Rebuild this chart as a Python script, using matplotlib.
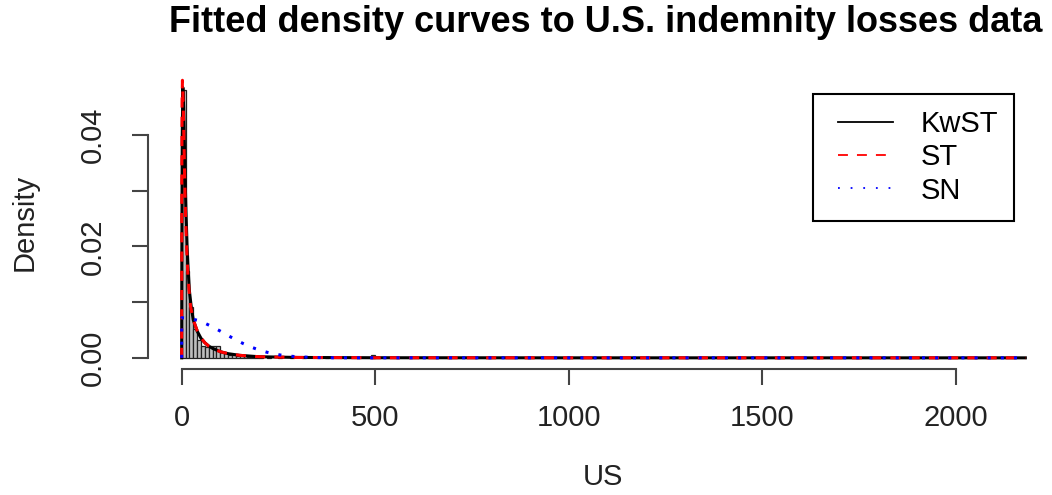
import matplotlib
matplotlib.use("Agg")
import matplotlib.pyplot as plt
from matplotlib.lines import Line2D
from matplotlib.legend_handler import HandlerLine2D

# histogram of the losses (bin width 10, density scale)
bin_width = 10
bin_start = [0, 10, 20, 30, 40, 50, 60, 70, 80, 90, 100, 110, 120, 130, 140,
             150, 160, 170, 180, 190, 200, 220, 250, 280, 310, 370, 490]
bin_density = [0.0480, 0.0155, 0.0092, 0.0052, 0.0032, 0.0021, 0.0019, 0.0021,
               0.0021, 0.0021, 0.0011, 0.0008, 0.0006, 0.0005, 0.0004, 0.0003,
               0.0003, 0.0002, 0.0002, 0.0002, 0.0001, 0.0001, 0.0002, 0.0001,
               0.0001, 0.0002, 0.0005]

# fitted densities
kwst_x = [0, 0.5, 1.5, 3, 5, 7, 9, 11, 14, 17, 20, 25, 30, 40, 50, 60, 70, 80,
          100, 120, 150, 200, 300, 500, 1000, 2180]
kwst_y = [0, 0.020, 0.040, 0.0485, 0.0450, 0.0385, 0.0320, 0.0265, 0.0200,
          0.0155, 0.0120, 0.0090, 0.0068, 0.0048, 0.0035, 0.0027, 0.0021,
          0.0017, 0.0011, 0.00075, 0.00045, 0.0002, 0.00007, 0.00002, 0.000003, 0]
st_x = [0, 0.3, 1, 2, 4, 6, 8, 10, 13, 16, 20, 23, 30, 40, 50, 60, 70, 80,
        100, 120, 150, 200, 300, 500, 1000, 2180]
st_y = [0, 0.030, 0.046, 0.0498, 0.0455, 0.0385, 0.0315, 0.0255, 0.0195,
        0.0150, 0.0112, 0.0092, 0.0068, 0.0049, 0.0036, 0.0027, 0.0021,
        0.0017, 0.0011, 0.00075, 0.00045, 0.0002, 0.00007, 0.00002, 0.000003, 0]
sn_x = [0, 0, 20, 40, 60, 80, 100, 120, 140, 160, 180, 200, 220, 240, 260,
        280, 300, 350, 400, 2180]
sn_y = [0, 0.0072, 0.00708, 0.00675, 0.00622, 0.00554, 0.00479, 0.00400,
        0.00323, 0.00253, 0.00192, 0.00141, 0.00101, 0.00069, 0.00045,
        0.00030, 0.00019, 0.00005, 0.00001, 0]

x_ticks = [0, 500, 1000, 1500, 2000]
y_ticks = [0, 0.01, 0.02, 0.03, 0.04]
y_ticklabels = ["0.00", "", "0.02", "", "0.04"]

plt.rcParams.update({"font.family": "Liberation Sans", "font.size": 21})

W, H = 1052, 495
fig = plt.figure(figsize=(W / 100, H / 100), dpi=100)
ax = fig.add_axes([148 / W, 1 - 369 / H, 911 / W, 301 / H])

ax.bar(bin_start, bin_density, width=bin_width, align="edge",
       color="#bebebe", edgecolor="#222222", lw=0.9)
ax.plot(kwst_x, kwst_y, color="black", lw=2.2, label="KwST")
ax.plot(st_x, st_y, color="#ff0000", lw=2.2, ls=(0, (3.3, 3.0)), label="ST")
ax.plot(sn_x, sn_y, color="#0000ff", lw=2.2, ls=(0, (1.0, 3.3)), label="SN")

ax.set_xlim(-87, 2267)
ax.set_ylim(-0.002, 0.052)
for s in ("top", "right"):
    ax.spines[s].set_visible(False)
for s in ("left", "bottom"):
    ax.spines[s].set_linewidth(1.5)
    ax.spines[s].set_color("#444444")
ax.spines["left"].set_bounds(0, 0.04)
ax.spines["bottom"].set_bounds(0, 2000)

ax.set_xticks(x_ticks)
ax.set_xticklabels([str(v) for v in x_ticks])
ax.set_yticks(y_ticks)
ax.set_yticklabels(y_ticklabels, rotation=90, va="center")
ax.tick_params(length=11.5, width=1.5, color="#444444", labelcolor="#222222")
ax.tick_params(axis="x", pad=14)
ax.tick_params(axis="y", pad=18)

fig.text(603 / W, 1 - 477 / H, "US", ha="center", va="center", color="#222222")
fig.text(25 / W, 1 - 222 / H, "Density", ha="center", va="center",
         rotation=90, color="#222222")
fig.text(606 / W, 1 - 23 / H, "Fitted density curves to U.S. indemnity losses data",
         ha="center", va="center", fontsize=26, fontweight="bold")

leg = ax.legend(loc="upper left", bbox_to_anchor=(813 / W, 1 - 94 / H),
                bbox_transform=fig.transFigure, borderaxespad=0, fancybox=False,
                edgecolor="black", framealpha=1, handlelength=2.2,
                handletextpad=0.95, labelspacing=0.18, borderpad=0.55,
                handler_map={Line2D: HandlerLine2D(xpad=0.3)})
leg.get_frame().set_linewidth(1.5)
for h in leg.legend_handles:
    h.set_linewidth(1.3)
leg.legend_handles[1].set_linestyle((0, (5.5, 5.0)))
leg.legend_handles[2].set_linestyle((0, (1.0, 6.0)))

fig.savefig("out.png", dpi=100)
